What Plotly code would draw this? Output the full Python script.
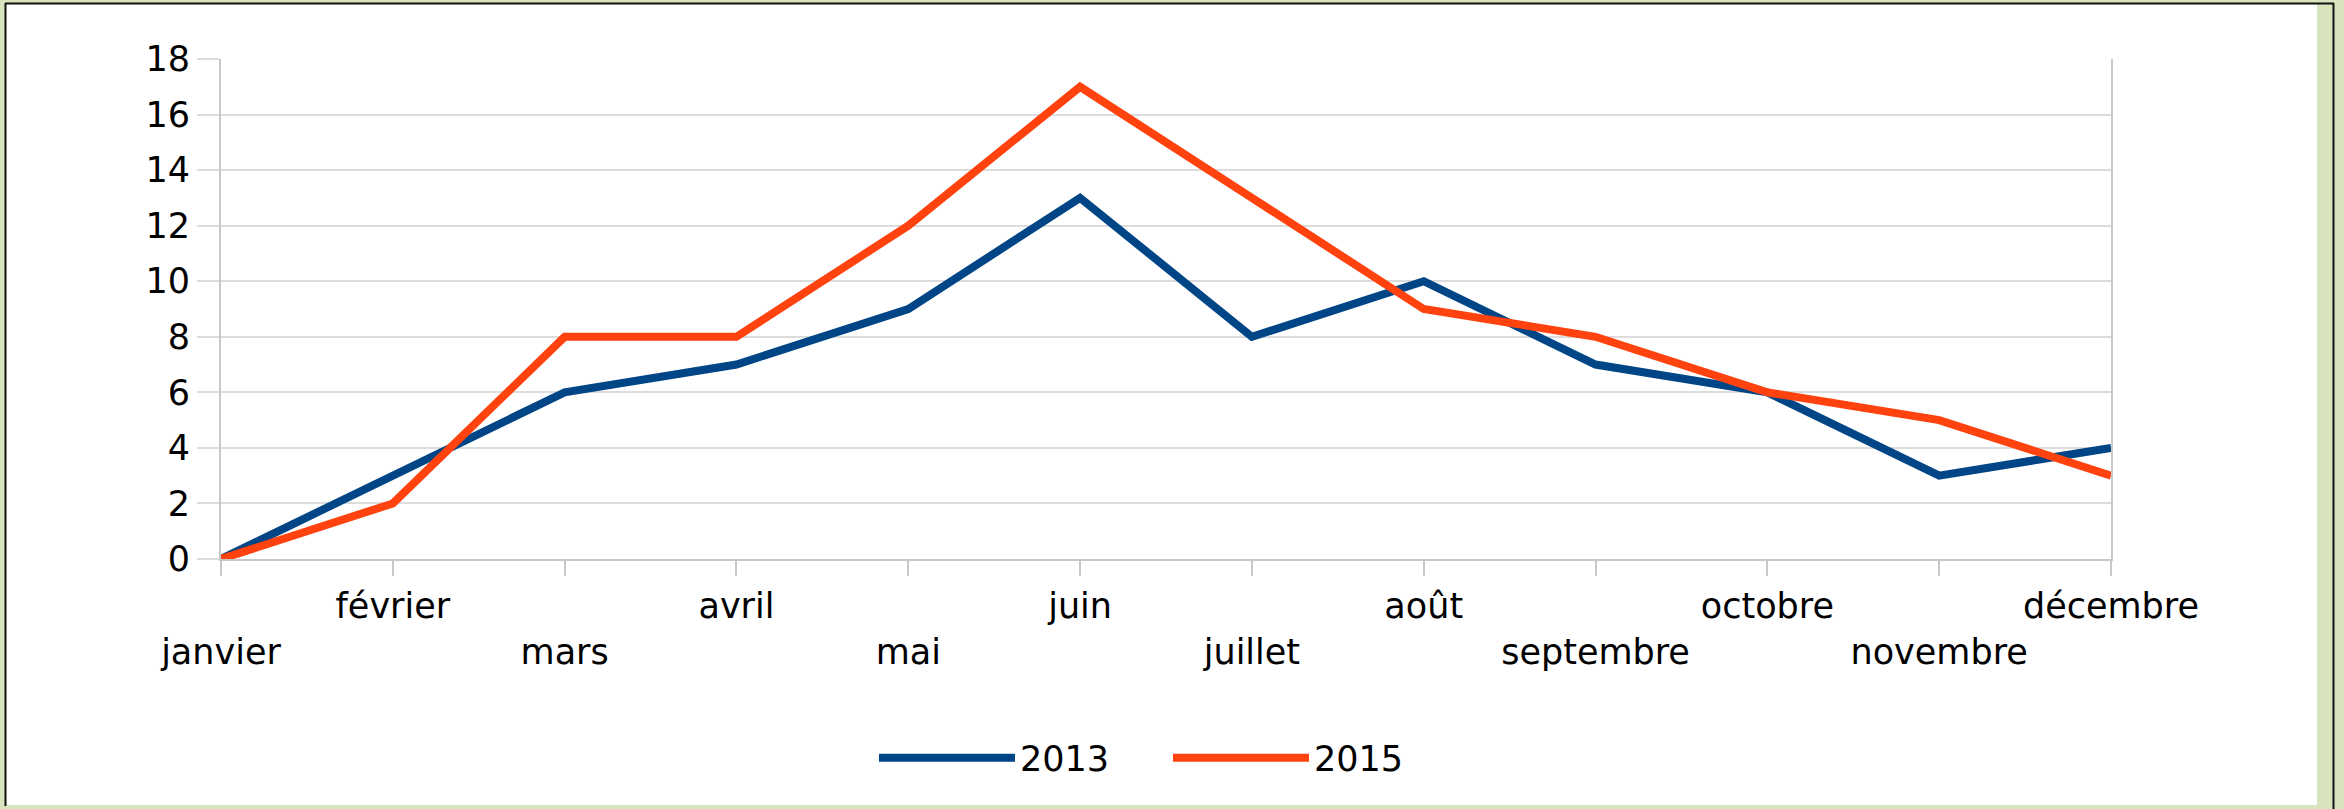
import plotly.graph_objects as go

months = ["janvier", "février", "mars", "avril", "mai", "juin", "juillet",
          "août", "septembre", "octobre", "novembre", "décembre"]
values_2013 = [0, 3, 6, 7, 9, 13, 8, 10, 7, 6, 3, 4]
values_2015 = [0, 2, 8, 8, 12, 17, 13, 9, 8, 6, 5, 3]
y_ticks = [0, 2, 4, 6, 8, 10, 12, 14, 16, 18]

W, H = 2344, 809
L, R, T, B = 221, 2111, 59, 559
FONT = "DejaVu Sans"
FS = 35

def px(x):
    return (x - L) / (R - L)

def py(y):
    return (B - y) / (B - T)

# staggered tick labels: odd index on first row, even index on second row
ticktext = [("\u00a0<br>" + m) if i % 2 == 0 else (m + "<br>\u00a0")
            for i, m in enumerate(months)]

fig = go.Figure()
fig.add_trace(go.Scatter(x=list(range(len(months))), y=values_2013, name="2013",
                         mode="lines", line=dict(color="#004586", width=8)))
fig.add_trace(go.Scatter(x=list(range(len(months))), y=values_2015, name="2015",
                         mode="lines", line=dict(color="#ff420e", width=8)))

shapes = [
    dict(type="rect", xref="paper", yref="paper", x0=px(6), x1=px(2317), y0=py(805), y1=py(4),
         fillcolor="white", line=dict(width=0), layer="below"),
    dict(type="line", xref="paper", yref="paper", x0=px(5.5), x1=px(5.5), y0=py(806), y1=py(3),
         line=dict(color="#111111", width=2), layer="below"),
    dict(type="line", xref="paper", yref="paper", x0=px(5), x1=px(2334), y0=py(3.5), y1=py(3.5),
         line=dict(color="#111111", width=2), layer="below"),
    dict(type="line", xref="paper", yref="paper", x0=px(2333.5), x1=px(2333.5), y0=py(809), y1=py(3),
         line=dict(color="#111111", width=2), layer="below"),
]

fig.update_layout(
    width=W, height=H,
    margin=dict(l=L, r=W - R, t=T, b=H - B, autoexpand=False),
    paper_bgcolor="#d8e4bc",
    plot_bgcolor="rgba(0,0,0,0)",
    font=dict(family=FONT, size=FS, color="#000000"),
    shapes=shapes,
    showlegend=True,
    legend=dict(orientation="h", x=px(874), xanchor="left", y=py(758), yanchor="middle",
                font=dict(size=FS), bgcolor="rgba(0,0,0,0)", itemwidth=136,
                entrywidth=143, entrywidthmode="pixels"),
    xaxis=dict(
        range=[0, len(months) - 1], automargin=False, tickangle=0,
        tickmode="array", tickvals=list(range(len(months))), ticktext=ticktext,
        showgrid=False, showline=True, linecolor="#c8c8c8", linewidth=2,
        mirror=False, ticks="outside", ticklen=15, tickcolor="#c8c8c8", tickwidth=2,
        zeroline=False, tickfont=dict(size=FS, family=FONT),
    ),
    yaxis=dict(
        range=[0, 18], automargin=False,
        tickmode="array", tickvals=y_ticks,
        showgrid=True, gridcolor="#dcdcdc", gridwidth=2,
        showline=True, linecolor="#c8c8c8", linewidth=2, mirror=True,
        ticks="outside", ticklen=22, tickcolor="#dcdcdc", tickwidth=2,
        zeroline=False, tickfont=dict(size=FS, family=FONT),
    ),
)

fig.write_html("out.html", config={"displayModeBar": False},
               post_script="document.body.style.margin='0px';document.body.style.overflow='hidden';")
